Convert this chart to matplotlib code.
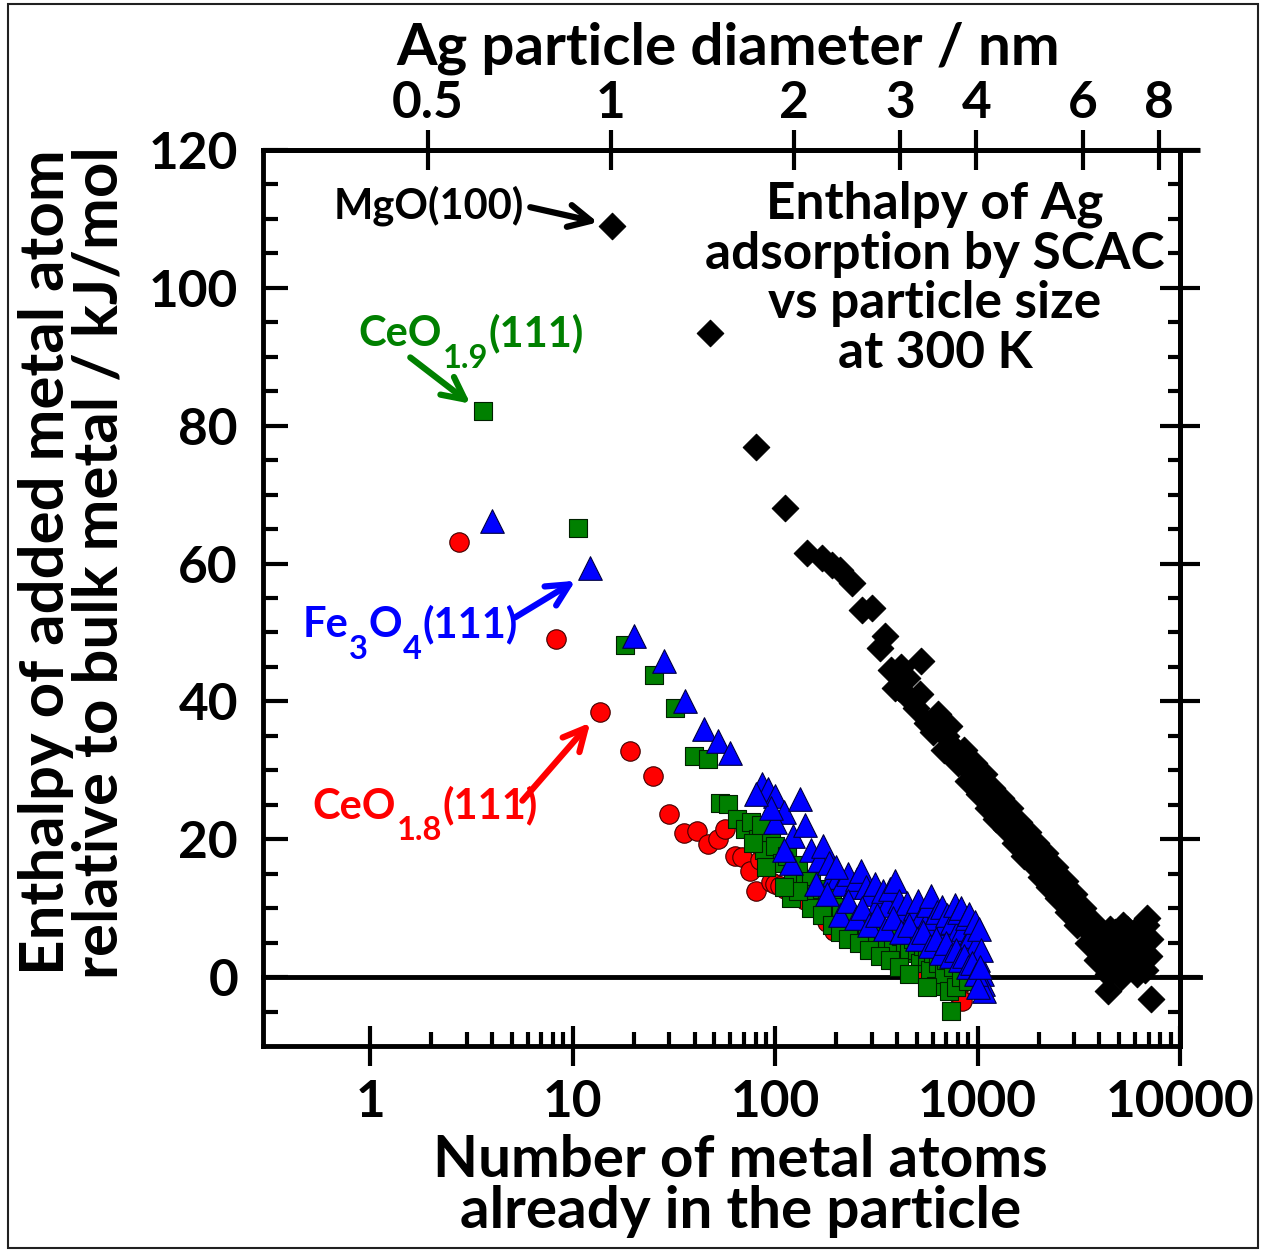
import numpy as np
import matplotlib
matplotlib.use("Agg")
import matplotlib.pyplot as plt
from matplotlib.patches import Rectangle
from matplotlib.ticker import FixedLocator, NullLocator, FixedFormatter, NullFormatter

plt.rcParams['font.family'] = ['Lato', 'DejaVu Sans']
plt.rcParams['font.weight'] = 'bold'
plt.rcParams['axes.labelweight'] = 'bold'

# Ag on MgO(100)
mgo_n = [15.6, 47.8, 80, 112, 143, 170, 190, 210, 240, 268, 302, 331, 372, 450, 495, 524,
         565, 640, 700, 740, 780, 830, 880, 945, 980, 1040, 1100, 1150, 1200, 1280, 1350,
         1420, 1500, 1580, 1650, 1730, 1820, 1900, 2000, 2100, 2200, 2300, 2450, 2600,
         2750, 2900, 3050, 3200, 3400, 3600, 3800, 4000, 4200, 4400, 4400, 4600, 4800,
         5000, 5200, 5400, 5600, 5800, 6000, 6300, 6600, 6900, 7000, 7200, 410, 600, 1250,
         350, 390, 420, 460, 520, 680, 720, 800, 860, 900, 960, 1020, 1080, 1130, 1180,
         1230, 1300, 1380, 1450, 1530, 1600, 1700, 1780, 1850, 1950, 2050, 2150, 2250,
         2400, 2500, 2700, 2800, 3000, 3100, 3300, 3500, 3700, 3900, 4100, 4300, 4500,
         4700, 4900, 5100, 5300, 5500, 5700, 5900, 6100, 6400, 6700, 7100, 6800]
mgo_h = [109.0, 93.4, 76.9, 68.1, 61.5, 60.8, 59.8, 59.0, 57.2, 53.2, 53.5, 47.7, 44.5,
         43.4, 39.1, 45.9, 36.8, 38.2, 35.0, 33.5, 33.0, 31.5, 30.5, 30.4, 29.0, 28.0, 27.5,
         25.5, 25.8, 24.0, 23.5, 22.0, 22.5, 20.5, 20.8, 19.0, 18.8, 17.5, 17.0, 16.0, 15.8,
         14.5, 14.0, 12.8, 12.0, 10.8, 10.0, 8.5, 8.0, 6.5, 5.5, 4.5, 6.0, 0.5, -2.0, 4.0,
         6.5, 2.5, 7.5, 1.0, 5.5, 3.5, 4.5, 2.0, 6.0, 8.5, 3.0, -3.2, 42.0, 35.5, 26.0,
         49.5, 42.0, 45.0, 40.5, 41.0, 33.0, 36.5, 31.0, 33.0, 28.5, 31.0, 26.5, 29.5, 24.5,
         27.5, 23.0, 26.0, 21.5, 24.5, 19.5, 22.5, 17.5, 21.0, 16.5, 19.5, 14.5, 18.0, 13.0,
         16.0, 11.5, 14.0, 9.5, 12.0, 7.5, 10.0, 5.0, 8.0, 2.5, 6.5, 3.0, 7.0, 1.5, 5.0,
         0.0, 3.5, 7.0, 1.5, 6.5, 0.5, 4.0, 1.0, 5.5, 7.5]

# Ag on CeO1.9(111)
ceo19_n = [3.6, 10.6, 18.2, 25.3, 32, 39.8, 46.6, 53.5, 58.5, 65, 71, 76, 82, 88, 95, 100,
           108, 115, 122, 130, 140, 150, 160, 170, 180, 190, 200, 212, 225, 240, 255, 270,
           285, 300, 320, 340, 360, 380, 400, 420, 440, 460, 480, 500, 520, 540, 560, 580,
           600, 620, 640, 660, 680, 700, 720, 740, 760, 780, 800, 830, 860, 900, 950,
           150, 170, 190, 210, 230, 260, 290, 330, 370, 410, 460, 560, 880, 120, 130, 110,
           90, 85, 78]
ceo19_h = [82.1, 65.2, 48.2, 43.9, 39.1, 32.1, 31.7, 25.3, 25.1, 23.0, 21.5, 22.5, 20.0,
           18.5, 21.0, 19.0, 16.5, 17.5, 15.0, 16.2, 13.5, 14.0, 12.0, 12.8, 10.5, 11.5, 9.5,
           10.2, 8.0, 9.0, 7.0, 8.2, 6.5, 7.5, 6.0, 5.5, 7.0, 5.0, 2.5, 6.0, 4.5, 3.5, 5.5,
           4.0, 2.0, 4.5, 3.0, 1.0, 3.5, -1.3, 2.0, 4.0, 0.5, 2.5, -2.0, -4.9, 1.5, -1.5,
           3.0, 0.0, 2.0, -0.5, 1.0,
           10.0, 9.0, 7.5, 6.5, 5.5, 5.0, 4.0, 3.0, 2.5, 1.5, 0.5, -1.5, 2.5, 11.5, 12.5, 13.0,
           16.0, 22.0, 19.5]

# Ag on CeO1.8(111)
ceo18_n = [2.75, 8.3, 13.7, 19.2, 25, 29.9, 35.5, 41, 46.6, 52, 56.8, 63, 68.7, 75.5, 80,
           84, 88, 95, 100, 106, 112, 118, 125, 133, 140, 150, 160, 170, 180, 195, 210, 230,
           250, 270, 300, 330, 360, 400, 450, 500, 550, 600, 650, 700, 760, 800, 840, 880]
ceo18_h = [63.1, 49.0, 38.5, 32.8, 29.2, 23.7, 20.9, 21.2, 19.3, 20.0, 21.5, 17.6, 17.4,
           15.4, 12.5, 17.0, 18.3, 13.8, 13.5, 13.2, 12.8, 13.0, 12.5, 12.8, 11.2, 12.0,
           10.5, 9.5, 8.0, 6.7, 9.0, 8.5, 7.5, 7.0, 6.0, 6.5, 5.0, 4.5, 4.0, 3.5, 0.5, 2.5,
           0.0, 1.5, -1.0, -2.5, -3.5, -0.5]

# Ag on Fe3O4(111)
fe3o4_n = [4.0, 12.2, 20, 28.3, 36, 44.6, 52, 60, 86, 92, 100, 110, 122, 133, 140, 150,
           165, 172, 185, 195, 205, 215, 230, 245, 255, 264, 280, 295, 310, 325, 340, 355,
           370, 390, 410, 430, 450, 470, 490, 510, 530, 550, 570, 588, 610, 630, 650, 670,
           690, 710, 730, 750, 770, 790, 810, 830, 850, 870, 890, 910, 930, 950, 970, 990,
           1000, 1020, 1040, 1050, 1060, 1080,
           210, 230, 250, 270, 290, 320, 350, 380, 420, 460, 500, 540, 580, 620, 660, 700,
           740, 780, 820, 860, 900, 940, 980, 1010, 1030, 160, 180, 200, 120, 110, 100, 95, 80]
fe3o4_h = [66.2, 59.3, 49.5, 45.9, 40.1, 36.0, 34.3, 32.5, 28.0, 27.3, 26.2, 24.0, 20.5,
           25.8, 22.0, 18.5, 17.0, 19.0, 16.5, 15.0, 14.5, 13.5, 15.0, 13.0, 14.2, 15.4,
           13.0, 12.0, 13.5, 11.0, 12.5, 10.5, 12.8, 14.0, 11.0, 9.5, 10.8, 8.5, 10.0,
           11.0, 9.0, 7.5, 10.5, 11.8, 8.5, 9.5, 6.5, 10.2, 7.8, 9.0, 5.5, 8.0, 10.5, 6.5,
           9.5, 10.0, 7.0, 4.5, 8.5, 9.2, 6.0, 3.5, 8.0, 5.0, 2.5, 7.0, 4.0, 0.5, -1.0, -2.0,
           9.0, 11.0, 8.5, 10.0, 7.5, 9.0, 7.0, 8.5, 6.5, 7.5, 5.5, 6.5, 4.5, 5.5, 3.5, 5.0,
           3.0, 4.0, 2.5, 3.0, 1.5, 2.0, 0.5, -1.5, 1.5, 13.5, 12.0, 16.0, 16.5, 18.5, 22.5,
           24.5, 26.5]

x_ticks = [1, 10, 100, 1000, 10000]
x_ticklabels = ['1', '10', '100', '1000', '10000']
y_ticks = [0, 20, 40, 60, 80, 100, 120]
d_ticks = [0.5, 1, 2, 3, 4, 6, 8]
d_ticklabels = ['0.5', '1', '2', '3', '4', '6', '8']

# atoms per particle ~ 15.4 * d^3 (d in nm)
N_PER_NM3 = 15.4


def n_to_d(n):
    n = np.asarray(n, dtype=float)
    return np.cbrt(np.clip(n, 1e-12, None) / N_PER_NM3)


def d_to_n(d):
    d = np.asarray(d, dtype=float)
    return N_PER_NM3 * np.clip(d, 1e-12, None) ** 3


fig = plt.figure(figsize=(12.65, 12.51), dpi=100)
ax = fig.add_axes([263 / 1265, 1 - 1046 / 1251, (1180 - 263) / 1265, (1046 - 150) / 1251])

ax.scatter(ceo18_n, ceo18_h, marker='o', s=14 ** 2, c='#ff0000', edgecolors='#400000',
           linewidths=0.8, zorder=3)
ax.scatter(ceo19_n, ceo19_h, marker='s', s=13 ** 2, c='#008000', edgecolors='#002000',
           linewidths=0.8, zorder=4)
ax.scatter(fe3o4_n, fe3o4_h, marker='^', s=17 ** 2, c='#0000ff', edgecolors='#000040',
           linewidths=0.8, zorder=5)
ax.scatter(mgo_n, mgo_h, marker='D', s=13.5 ** 2, c='black', edgecolors='black',
           linewidths=0.8, zorder=6)

ax.set_xscale('log')
ax.set_xlim(0.295, 10000)
ax.set_ylim(-10, 120)

ax.axhline(0, xmin=0, xmax=1.022, color='black', lw=3.5, clip_on=False, zorder=2)
ax.plot([1, 1.022], [1, 1], transform=ax.transAxes, color='black', lw=3.5,
        clip_on=False, solid_capstyle='butt')

for s in ax.spines.values():
    s.set_linewidth(3.5)

ax.xaxis.set_major_locator(FixedLocator(x_ticks))
ax.xaxis.set_major_formatter(FixedFormatter(x_ticklabels))
ax.xaxis.set_minor_locator(FixedLocator([m * 10 ** e for e in range(0, 4) for m in range(2, 10)]))
ax.xaxis.set_minor_formatter(NullFormatter())
ax.yaxis.set_major_locator(FixedLocator(y_ticks))
ax.yaxis.set_minor_locator(FixedLocator(np.arange(-5, 120, 5)))

ax.tick_params(axis='x', which='major', direction='inout', length=29, width=3,
               labelsize=37, pad=9, top=False)
ax.tick_params(axis='x', which='minor', direction='in', length=10, width=3, top=False)
ax.tick_params(axis='y', which='major', direction='in', length=18, width=3,
               labelsize=37, pad=18, right=False)
ax.tick_params(axis='y', which='minor', direction='in', length=11, width=3, right=False)

# right-hand ticks cross the frame
rax = ax.secondary_yaxis('right')
rax.yaxis.set_major_locator(FixedLocator(y_ticks))
rax.yaxis.set_major_formatter(NullFormatter())
rax.yaxis.set_minor_locator(FixedLocator(np.arange(-5, 120, 5)))
rax.tick_params(which='major', direction='inout', length=29, width=3)
rax.tick_params(which='minor', direction='in', length=9, width=3)
rax.spines['right'].set_linewidth(3.5)

ax.set_xlabel('Number of metal atoms\nalready in the particle', fontsize=42,
              linespacing=0.96, labelpad=6)
ax.xaxis.label.set_x(0.521)
ax.set_ylabel('Enthalpy of added metal atom\nrelative to bulk metal / kJ/mol',
              fontsize=44.5, linespacing=0.95)
ax.yaxis.set_label_coords(-0.148, 0.540)

top = ax.secondary_xaxis('top', functions=(n_to_d, d_to_n))
top.xaxis.set_major_locator(FixedLocator(d_ticks))
top.xaxis.set_major_formatter(FixedFormatter(d_ticklabels))
top.xaxis.set_minor_locator(NullLocator())
top.tick_params(axis='x', which='major', direction='inout', length=29, width=3,
                labelsize=37, pad=2)
top.spines['top'].set_linewidth(3.5)
top.set_xlabel('Ag particle diameter / nm', fontsize=42, labelpad=11)
top.xaxis.label.set_x(0.507)

ax.text(616, 101.3, 'Enthalpy of Ag\nadsorption by SCAC\nvs particle size\nat 300 K',
        fontsize=37, ha='center', va='center', linespacing=1.07)


def chem_label(x, y, parts, color, size=30, drop=14):
    # parts: (text, subscript?) pieces laid out left to right on one baseline
    first = ax.text(x, y, parts[0][0], fontsize=size, color=color, ha='left', va='baseline')
    prev = first
    for s, sub in parts[1:]:
        if sub:
            prev = ax.annotate(s, xy=(1, 0), xycoords=(prev, first), xytext=(0.5, -drop),
                               textcoords='offset points', fontsize=size * 0.78,
                               color=color, ha='left', va='bottom')
        else:
            prev = ax.annotate(s, xy=(1, 0), xycoords=(prev, first), xytext=(0.5, 0),
                               textcoords='offset points', fontsize=size,
                               color=color, ha='left', va='bottom')


def arrow(start, end, color):
    ax.annotate('', xy=end, xytext=start,
                arrowprops=dict(arrowstyle='->', lw=4.5, color=color, mutation_scale=40,
                                shrinkA=0, shrinkB=0))


ax.text(0.656, 110.1, 'MgO(100)', fontsize=30, ha='left', va='baseline')
arrow((6.17, 111.7), (13.3, 109.5), 'black')

chem_label(0.873, 91.5, [('CeO', False), ('1.9', True), ('(111)', False)], '#008000')
arrow((1.576, 89.9), (3.12, 83.2), '#008000')

chem_label(0.461, 49.3, [('Fe', False), ('3', True), ('O', False), ('4', True),
                         ('(111)', False)], '#0000ff')
arrow((5.2, 52.2), (10.3, 57.5), '#0000ff')

chem_label(0.517, 23.0, [('CeO', False), ('1.8', True), ('(111)', False)], '#ff0000')
arrow((5.64, 25.6), (12.2, 36.9), '#ff0000')

fig.patches.append(Rectangle((8 / 1265, 3 / 1251), 1250 / 1265, 1244 / 1251,
                             transform=fig.transFigure, fill=False, edgecolor='#202020',
                             lw=1.5))

fig.savefig('out.png', dpi=100)
